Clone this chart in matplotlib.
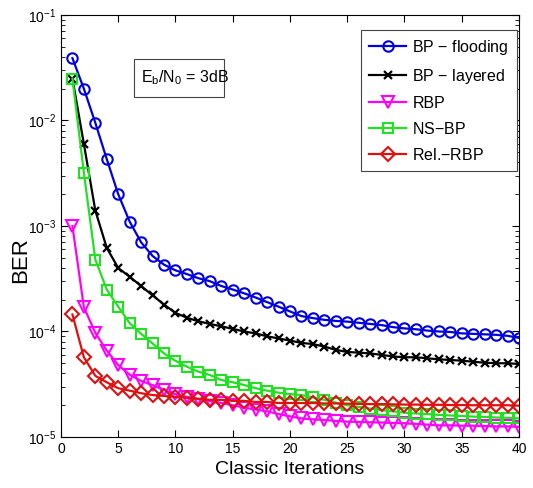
import numpy as np
import matplotlib
matplotlib.use("Agg")
import matplotlib.pyplot as plt
from matplotlib.patches import Rectangle

plt.rcParams['font.family'] = ['Liberation Sans', 'DejaVu Sans']
plt.rcParams['mathtext.fontset'] = 'custom'
plt.rcParams['mathtext.rm'] = 'Liberation Sans'
plt.rcParams['mathtext.it'] = 'Liberation Sans'

iterations = list(range(1, 41))

bp_flooding = [0.039, 0.020, 0.0095, 0.0043, 0.0020, 0.00110, 0.00070, 0.00052, 0.00043, 0.00038,
               0.00035, 0.00032, 0.00030, 0.00027, 0.00025, 0.00023, 0.00021, 0.00019, 0.000172, 0.000155,
               0.000140, 0.000134, 0.000129, 0.000126, 0.000124, 0.000121, 0.000118, 0.000115, 0.000110, 0.000107,
               0.000105, 0.000102, 0.000100, 0.000099, 0.000096, 0.000095, 0.000094, 0.000093, 0.000091, 0.000087]

bp_layered = [0.025, 0.0060, 0.0014, 0.00062, 0.00040, 0.00033, 0.00027, 0.00022, 0.00018, 0.00015,
              0.000135, 0.000125, 0.000118, 0.000112, 0.000106, 0.000100, 0.000096, 0.000090, 0.000086, 0.000082,
              0.000078, 0.000076, 0.000072, 0.000067, 0.000064, 0.000063, 0.000062, 0.000060, 0.000058, 0.000057,
              0.000057, 0.0000557, 0.0000545, 0.0000537, 0.0000529, 0.0000517, 0.0000506, 0.0000500, 0.0000500, 0.0000492]

rbp = [0.0010, 0.00017, 0.000097, 0.000066, 0.000048, 0.000039, 0.000034, 0.000031, 0.000028, 0.0000255,
       0.000024, 0.000023, 0.000022, 0.000021, 0.000020, 0.000019, 0.0000182, 0.0000175, 0.0000165, 0.0000157,
       0.0000150, 0.0000147, 0.0000145, 0.0000142, 0.0000140, 0.0000139, 0.0000138, 0.0000137, 0.0000136, 0.0000135,
       0.0000133, 0.0000131, 0.0000129, 0.0000129, 0.0000128, 0.0000128, 0.0000127, 0.0000126, 0.0000126, 0.0000125]

ns_bp = [0.025, 0.0032, 0.00048, 0.00025, 0.000172, 0.000120, 0.000095, 0.000077, 0.000062, 0.0000528,
         0.0000464, 0.0000416, 0.0000387, 0.0000347, 0.000033, 0.0000311, 0.000029, 0.0000275, 0.0000263, 0.0000255,
         0.000025, 0.0000238, 0.0000225, 0.0000212, 0.000020, 0.0000193, 0.0000186, 0.000018, 0.0000175, 0.000017,
         0.0000167, 0.0000165, 0.0000162, 0.000016, 0.0000158, 0.0000156, 0.0000155, 0.0000153, 0.0000152, 0.000015]

rel_rbp = [0.000145, 0.000057, 0.000038, 0.000033, 0.000029, 0.0000275, 0.000026, 0.000025, 0.0000245, 0.000024,
           0.0000235, 0.000023, 0.0000225, 0.0000225, 0.000022, 0.000022, 0.0000215, 0.0000215, 0.000021, 0.000021,
           0.000021, 0.000021, 0.0000208, 0.0000208, 0.0000207, 0.0000206, 0.0000205, 0.0000205, 0.0000204, 0.0000203,
           0.0000203, 0.0000202, 0.0000202, 0.0000201, 0.0000201, 0.00002, 0.00002, 0.00002, 0.00002, 0.0000198]

fig = plt.figure(figsize=(5.33, 4.88), dpi=100)
ax = fig.add_axes([0.1144, 0.1045, 0.8593, 0.8648])

ax.semilogy(iterations, bp_flooding, color='#0000e0', marker='o', ms=7.5, mfc='none', mew=1.5, lw=1.6, label='BP $-$ flooding')
ax.semilogy(iterations, bp_layered, color='black', marker='x', ms=5.5, mew=1.6, lw=1.6, label='BP $-$ layered')
ax.semilogy(iterations, rbp, color='#ff00ff', marker='v', ms=8, mfc='none', mew=1.5, lw=1.6, label='RBP')
ax.semilogy(iterations, ns_bp, color='#22e022', marker='s', ms=6.5, mfc='none', mew=1.5, lw=1.6, label='NS$-$BP')
ax.semilogy(iterations, rel_rbp, color='#e01010', marker='D', ms=7, mfc='none', mew=1.5, lw=1.6, label='Rel.$-$RBP')

ax.set_xlim(0, 40)
ax.set_ylim(1e-5, 1e-1)
ax.set_xticks([0, 5, 10, 15, 20, 25, 30, 35, 40])
ax.tick_params(which='both', direction='in', top=True, right=True, labelsize=10)
ax.tick_params(which='major', length=5)
ax.tick_params(which='minor', length=3)
ax.set_xlabel('Classic Iterations', fontsize=14)
ax.set_ylabel('BER', fontsize=16)
ax.yaxis.set_label_coords(-0.065, 0.42)

# text box
ax.add_patch(Rectangle((0.159, 0.806), 0.197, 0.090, transform=ax.transAxes,
                       fc='white', ec='#444444', lw=0.8, zorder=5))
ax.text(0.271, 0.851, '$E_b/N_0$ = 3dB', transform=ax.transAxes, fontsize=11.5,
        ha='center', va='center', zorder=6)

leg = ax.legend(loc='upper right', bbox_to_anchor=(0.9956, 0.9645), borderaxespad=0,
                fontsize=11.5, fancybox=False, framealpha=1, edgecolor='#444444',
                handlelength=2.3, handletextpad=0.4, labelspacing=0.62, borderpad=0.5)
leg.get_frame().set_linewidth(0.8)

fig.savefig('out.png', dpi=100)
